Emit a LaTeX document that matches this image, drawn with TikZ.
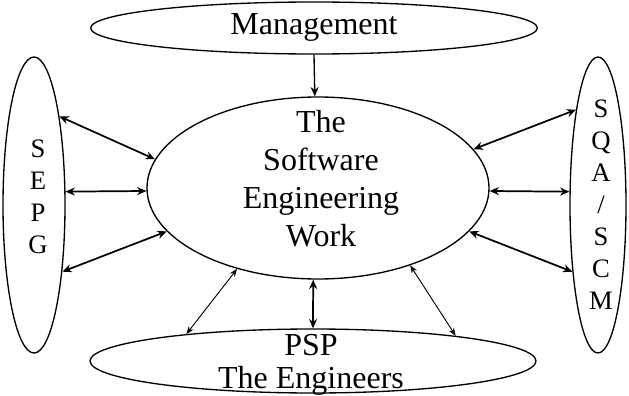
\documentclass[tikz,border=0pt]{standalone}
\usepackage{fontspec}
\setmainfont{Liberation Serif}
\usetikzlibrary{shapes.geometric,arrows.meta}
\begin{document}
\begin{tikzpicture}[x=0.75pt,y=-0.75pt,
		blob/.style={draw,ellipse,inner sep=0pt,line width=1pt},
		both/.style={{Stealth[length=7pt,width=6pt]}-{Stealth[length=7pt,width=6pt]},line width=1.3pt},
		thinboth/.style={{Stealth[length=6pt,width=4.5pt]}-{Stealth[length=6pt,width=4.5pt]},line width=0.7pt},
		big/.style={font=\fontsize{24}{28.5}\selectfont,align=center,inner sep=0pt},
		letters/.style={font=\fontsize{20}{24}\selectfont,align=center,inner sep=0pt}]
		\useasboundingbox (0,0) rectangle (629,396);
		\node[blob,minimum width=335pt,minimum height=39pt] (mgmt) at (314,28) {};
		\node[blob,minimum width=46.5pt,minimum height=222pt] (sepg) at (34,205) {};
		\node[blob,minimum width=42pt,minimum height=222pt] (sqa) at (598,205) {};
		\node[blob,minimum width=256.5pt,minimum height=136.5pt] (work) at (318,188) {};
		\node[blob,minimum width=334.5pt,minimum height=48pt] (psp) at (313,361) {};
		\node[big,anchor=base] (mgmttxt) at (314,35) {Management};
		\node[big,anchor=north] (worktxt) at (321,110) {The\\Software\\Engineering\\Work};
		\node[big,font=\fontsize{24}{24.75}\selectfont,anchor=north] (psptxt) at (311,334) {PSP\\The Engineers};
		\node[letters,anchor=north] (sepgtxt) at (38,140) {S\\E\\P\\G};
		\node[letters,anchor=north] (sqatxt) at (601,100) {S\\Q\\A\\/\\S\\C\\M};
		\draw[-{Stealth[length=7pt,width=6pt]},line width=1pt] (mgmt.south) -- (work.92);
		\draw[both] (sepg.74) -- (work.170);
		\draw[both] (sepg.23) -- (work.181);
		\draw[both] (sepg.-67) -- (work.196);
		\draw[both] (work.14) -- (sqa.103);
		\draw[both] (work.-1) -- (sqa.155);
		\draw[both] (work.-16) -- (sqa.-111);
		\draw[both] (work.-93) -- (psp.north);
		\draw[thinboth] (work.-135) -- (psp.168);
		\draw[thinboth] (work.-40) -- (psp.10);
	\end{tikzpicture}
\end{document}
